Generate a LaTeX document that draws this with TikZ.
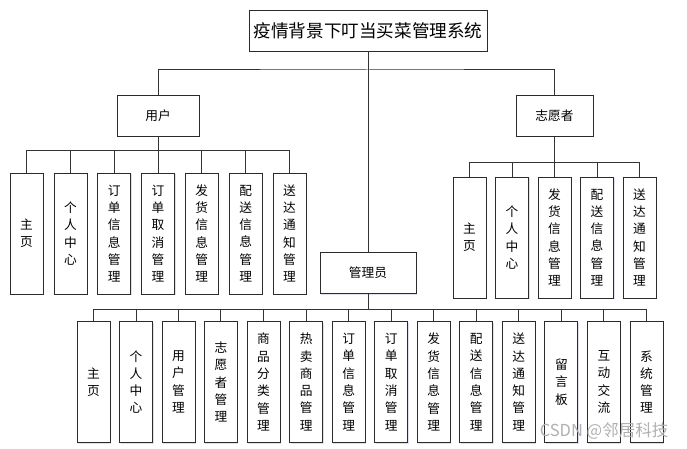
\documentclass[tikz,border=0pt]{standalone}
\usepackage{fontspec}
\setmainfont{Noto Sans CJK SC}
\usepackage{xcolor}
\usetikzlibrary{shadows}
\definecolor{lnkgray}{HTML}{333333}
\definecolor{boxgray}{HTML}{2B2B2B}
\definecolor{wmgray}{HTML}{B0B0B0}

\begin{document}
\begin{tikzpicture}[x=1pt,y=-1pt,
  box/.style={draw=boxgray,line width=0.9pt,fill=white,inner sep=0pt,align=center,
    drop shadow={shadow xshift=1pt,shadow yshift=-1pt,opacity=0.18,fill=blue!40!gray}},
  head/.style={box,minimum width=238,minimum height=41,font=\fontsize{17.6}{20}\selectfont},
  role/.style={box,minimum height=41,font=\fontsize{12.7}{15}\selectfont},
  leaf/.style={box,minimum width=33,minimum height=121,font=\fontsize{12.7}{17.3}\selectfont},
  link/.style={draw=lnkgray,line width=1pt}]
  \useasboundingbox (0,0) rectangle (687,449);
  % top level
  \node[head] (title) at (368,30.5) {疫情背景下叮当买菜管理系统};
  \node[role,minimum width=82] (user)  at (158,115.5) {用户};
  \node[role,minimum width=77] (vol)   at (554.5,116) {志愿者};
  \node[role,minimum width=96] (admin) at (368,273) {管理员};
  % user modules
  \node[leaf] (u1) at (26.5,233.5)  {主\\页};
  \node[leaf] (u2) at (70.5,233.5)  {个\\人\\中\\心};
  \node[leaf] (u3) at (114.3,233.5) {订\\单\\信\\息\\管\\理};
  \node[leaf] (u4) at (158,233.5)   {订\\单\\取\\消\\管\\理};
  \node[leaf] (u5) at (201.8,233.5) {发\\货\\信\\息\\管\\理};
  \node[leaf] (u6) at (245.6,233.5) {配\\送\\信\\息\\管\\理};
  \node[leaf] (u7) at (289.5,233.5) {送\\达\\通\\知\\管\\理};
  % volunteer modules
  \node[leaf] (v1) at (469.5,237.5) {主\\页};
  \node[leaf] (v2) at (512,237.5)   {个\\人\\中\\心};
  \node[leaf] (v3) at (554.5,237.5) {发\\货\\信\\息\\管\\理};
  \node[leaf] (v4) at (597,237.5)   {配\\送\\信\\息\\管\\理};
  \node[leaf] (v5) at (639.5,237.5) {送\\达\\通\\知\\管\\理};
  % admin modules
  \node[leaf] (a1)  at (93.5,382)  {主\\页};
  \node[leaf] (a2)  at (136,382)   {个\\人\\中\\心};
  \node[leaf] (a3)  at (178.5,382) {用\\户\\管\\理};
  \node[leaf] (a4)  at (220.9,382) {志\\愿\\者\\管\\理};
  \node[leaf] (a5)  at (263.5,382) {商\\品\\分\\类\\管\\理};
  \node[leaf] (a6)  at (306.1,382) {热\\卖\\商\\品\\管\\理};
  \node[leaf] (a7)  at (348.6,382) {订\\单\\信\\息\\管\\理};
  \node[leaf] (a8)  at (391.2,382) {订\\单\\取\\消\\管\\理};
  \node[leaf] (a9)  at (433.7,382) {发\\货\\信\\息\\管\\理};
  \node[leaf] (a10) at (476.3,382) {配\\送\\信\\息\\管\\理};
  \node[leaf] (a11) at (518.8,382) {送\\达\\通\\知\\管\\理};
  \node[leaf] (a12) at (561.4,382) {留\\言\\板};
  \node[leaf] (a13) at (603.9,382) {互\\动\\交\\流};
  \node[leaf] (a14) at (646.5,382) {系\\统\\管\\理};
  % bus points
  \coordinate (bus0) at (368,70);
  \coordinate (ubus) at (158,151);
  \coordinate (vbus) at (554.5,163);
  \coordinate (abus) at (368,309);
  % connectors
  \draw[link] (title) -- (admin);
  \draw[link] (user.north) |- (bus0) -| (vol.north);
  \draw[link] (user) -- (ubus);
  \draw[link] (vol) -- (vbus);
  \draw[link] (admin) -- (abus);
  \foreach \i in {1,...,7} \draw[link] (ubus) -| (u\i.north);
  \foreach \i in {1,...,5} \draw[link] (vbus) -| (v\i.north);
  \foreach \i in {1,...,14} \draw[link] (abus) -| (a\i.north);
  \node[text=wmgray,font=\fontsize{16.5}{18}\selectfont] (mark) at (604,431) {CSDN @邻居科技};
\end{tikzpicture}
\end{document}
